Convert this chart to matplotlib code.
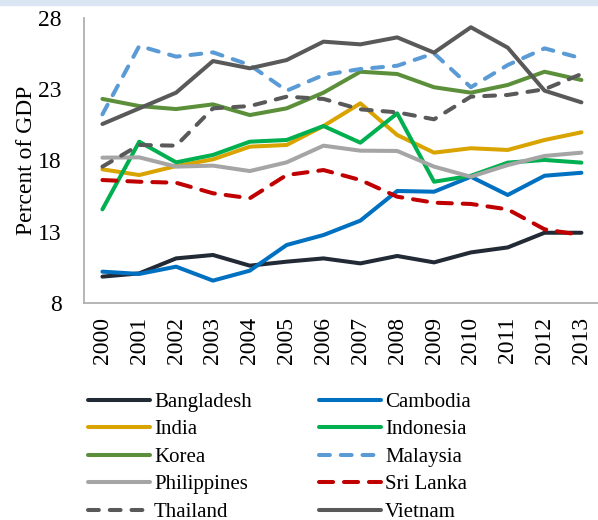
import matplotlib
matplotlib.use("Agg")
import matplotlib.pyplot as plt
from matplotlib.patches import Rectangle

plt.rcParams['font.family'] = ['Liberation Serif', 'DejaVu Serif']

years = [str(y) for y in range(2000, 2014)]

bangladesh = [9.85, 10.08, 11.13, 11.37, 10.62, 10.9, 11.13, 10.78, 11.3, 10.85, 11.55, 11.9, 12.93, 12.93]
cambodia = [10.2, 10.04, 10.55, 9.57, 10.27, 12.07, 12.77, 13.78, 15.86, 15.81, 16.86, 15.58, 16.93, 17.14]
india = [17.38, 16.98, 17.61, 18.08, 18.97, 19.09, 20.42, 22.01, 19.79, 18.55, 18.86, 18.74, 19.44, 19.98]
indonesia = [14.57, 19.32, 17.87, 18.39, 19.32, 19.44, 20.42, 19.25, 21.31, 16.51, 16.93, 17.85, 18.04, 17.85]
korea = [22.32, 21.82, 21.61, 21.94, 21.19, 21.66, 22.76, 24.23, 24.07, 23.14, 22.76, 23.3, 24.23, 23.65]
malaysia = [21.24, 26.04, 25.29, 25.59, 24.7, 22.9, 24.0, 24.42, 24.65, 25.52, 23.14, 24.7, 25.87, 25.17]
philippines = [18.2, 18.22, 17.57, 17.64, 17.26, 17.87, 19.04, 18.69, 18.67, 17.57, 16.86, 17.68, 18.32, 18.55]
sri_lanka = [16.63, 16.51, 16.44, 15.7, 15.35, 16.98, 17.33, 16.63, 15.46, 15.04, 14.95, 14.57, 13.17, 12.77]
thailand = [17.57, 19.09, 19.04, 21.66, 21.82, 22.48, 22.32, 21.59, 21.38, 20.89, 22.48, 22.6, 23.0, 24.07]
vietnam = [20.56, 21.66, 22.76, 24.98, 24.47, 25.05, 26.34, 26.15, 26.64, 25.57, 27.35, 25.92, 22.9, 22.08]

series = [
    ("Bangladesh", bangladesh, "#222a35", "-"),
    ("Cambodia", cambodia, "#0070c0", "-"),
    ("India", india, "#d9a300", "-"),
    ("Indonesia", indonesia, "#00b050", "-"),
    ("Korea", korea, "#5b8f3a", "-"),
    ("Malaysia", malaysia, "#5b9bd5", (0, (2.7, 2.7))),
    ("Philippines", philippines, "#a5a5a5", "-"),
    ("Sri Lanka", sri_lanka, "#c00000", (0, (3.5, 2.7))),
    ("Thailand", thailand, "#595959", (0, (2.7, 2.7))),
    ("Vietnam", vietnam, "#595959", "-"),
]

fig = plt.figure(figsize=(5.98, 5.2), dpi=100)
ax = fig.add_axes([84 / 598, 1 - 303 / 520, 1 - 84 / 598, 285 / 520])

# light blue band at the top of the picture
fig.patches.append(Rectangle((0, 1 - 5 / 520), 1, 5 / 520, transform=fig.transFigure,
                             color="#dae6f3", zorder=0))

x = list(range(len(years)))
lines = {}
for name, vals, col, ls in series:
    ln, = ax.plot(x, vals, color=col, linestyle=ls, lw=2.9,
                  dash_capstyle='round', solid_capstyle='round', label=name)
    lines[name] = ln

ax.set_xlim(-0.5, 13.45)
ax.set_ylim(8, 28)
ax.set_yticks([8, 13, 18, 23, 28])
ax.set_xticks(x)
ax.set_xticklabels(years, rotation=90)
ax.tick_params(axis='y', length=0, pad=16, labelsize=17)
ax.tick_params(axis='x', length=0, pad=10, labelsize=17)
ax.set_ylabel("Percent of GDP", fontsize=17, ha='center', va='center')
ax.yaxis.set_label_coords(-(84 - 27) / 514, 0.5)

for s in ['top', 'right']:
    ax.spines[s].set_visible(False)
for s in ['left', 'bottom']:
    ax.spines[s].set_color("#b0b0b0")
    ax.spines[s].set_linewidth(1.3)

# legend in two columns, rows read across
order = ["Bangladesh", "India", "Korea", "Philippines", "Thailand",
         "Cambodia", "Indonesia", "Malaysia", "Sri Lanka", "Vietnam"]
fig.legend([lines[n] for n in order], order, ncol=2, frameon=False,
           loc='upper left', bbox_to_anchor=(80 / 598, 1 - 384 / 520),
           fontsize=15, handlelength=2.95, handletextpad=0.2,
           columnspacing=3.25, labelspacing=0.38, borderaxespad=0)

fig.savefig("out.png", dpi=100)
